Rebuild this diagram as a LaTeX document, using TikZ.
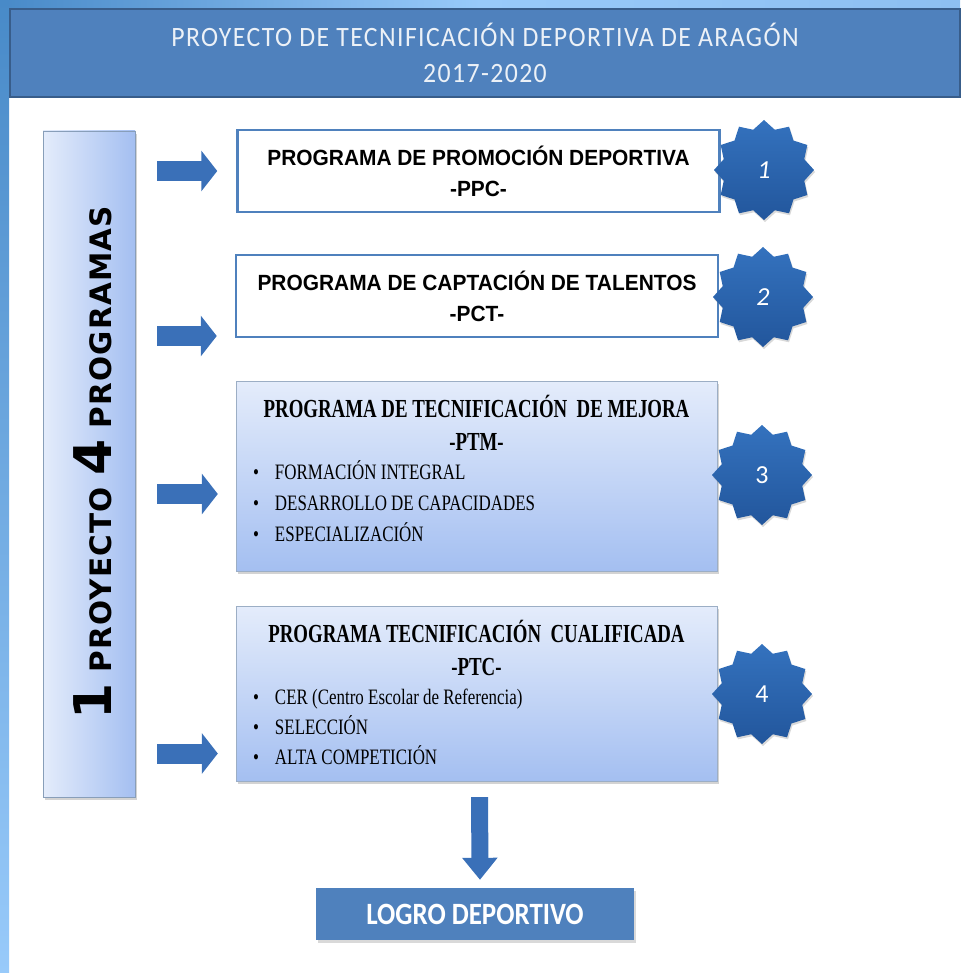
\documentclass[tikz,border=0pt]{standalone}
\usepackage{fontspec}
\setmainfont{Liberation Serif}
\newfontfamily\titfont[LetterSpace=5,FakeStretch=0.92]{Carlito}
\newfontfamily\numfont{Carlito}
\newfontfamily\logrofont[FakeStretch=0.87]{Carlito}
\newfontfamily\negfont[FakeStretch=0.95]{Liberation Sans}
\newfontfamily\serfont[FakeStretch=0.77]{Liberation Serif}
\newfontfamily\sertitfont[FakeStretch=0.725]{Liberation Serif}
\newfontfamily\verfont[LetterSpace=4]{DejaVu Sans}
\usetikzlibrary{positioning}
\usetikzlibrary{shapes,shapes.geometric}
\usetikzlibrary{arrows.meta}
\usetikzlibrary{shadows}

\definecolor{azul}{RGB}{79,129,189}
\definecolor{azulOsc}{RGB}{56,93,138}
\definecolor{flecha}{RGB}{58,112,184}
\definecolor{claro}{RGB}{228,236,251}
\definecolor{medio}{RGB}{164,191,241}
\definecolor{estrellaA}{RGB}{52,114,190}
\definecolor{estrellaB}{RGB}{34,86,156}
\definecolor{textoTit}{RGB}{236,241,247}
\definecolor{fondoA}{RGB}{72,138,200}
\definecolor{fondoB}{RGB}{152,202,250}

\begin{document}
\begin{tikzpicture}[x=1pt,y=-1pt,
banda/.style={fill=azul,draw=azulOsc,line width=2pt,minimum width=950,minimum height=88,inner sep=0pt},
titulo/.style={text=textoTit,align=center,font=\titfont\fontsize{28}{36}\selectfont},
cajaV/.style={draw=azulOsc!60,left color=claro,right color=medio,minimum width=92,minimum height=666,
  drop shadow={shadow xshift=2pt,shadow yshift=-3pt,opacity=0.35}},
cajaB/.style={draw=azul,line width=2.5pt,fill=white,minimum width=482,minimum height=82},
cajaG/.style={draw=azulOsc!50,top color=claro,bottom color=medio,minimum width=481,
  drop shadow={shadow xshift=2pt,shadow yshift=-3pt,opacity=0.35}},
textoB/.style={align=center,font=\negfont\bfseries\fontsize{22}{31}\selectfont},
textoS/.style={align=center,font=\sertitfont\bfseries\fontsize{26}{33}\selectfont},
lista/.style={align=left,anchor=west,inner sep=0pt,font=\serfont\fontsize{22}{31}\selectfont},
estrella/.style={star,star points=12,star point ratio=1.2,minimum size=100,inner sep=0pt,
  top color=estrellaA,bottom color=estrellaB,text=white,font=\numfont\fontsize{26}{26}\selectfont,
  drop shadow={shadow xshift=1pt,shadow yshift=-2pt,opacity=0.3}},
flechaH/.style={draw=flecha,line width=20pt,-{Triangle[length=16pt,width=40pt]}},
flechaV/.style={draw=flecha,line width=17pt,-{Triangle[length=22pt,width=34pt]}},
logro/.style={fill=azul,text=white,minimum width=318,minimum height=52,font=\logrofont\bfseries\fontsize{31}{31}\selectfont,
  drop shadow={shadow xshift=2pt,shadow yshift=-3pt,opacity=0.3}}
]
\useasboundingbox (0,0) rectangle (960,973);
%-- fondo
\shade[left color=fondoA,right color=fondoB!85!azul,middle color=fondoB] (0,0) rectangle (960,10);
\shade[top color=fondoA,bottom color=fondoB] (0,0) rectangle (9,973);
%-- cabecera
\node[banda](cab) at (485,53){};
\node[titulo] at (cab.center){PROYECTO DE TECNIFICACIÓN DEPORTIVA DE ARAGÓN\\2017-2020};
%-- proyecto
\node[cajaV](proy) at (89,464){};
\node[rotate=90,anchor=base,font=\verfont\bfseries\fontsize{29.5}{30}\selectfont] (proyT) at (111,463)
  {{\fontsize{52}{52}\selectfont 1} PROYECTO {\fontsize{52}{52}\selectfont 4} PROGRAMAS};
%-- programas
\node[cajaB](ppc) at (478.5,171){}; \node[textoB] at (ppc.center){PROGRAMA DE PROMOCIÓN DEPORTIVA\\-PPC-};
\node[cajaB](pct) at (477,296){}; \node[textoB] at (pct.center){PROGRAMA DE CAPTACIÓN DE TALENTOS\\-PCT-};
%--
\node[cajaG,minimum height=190](ptm) at (476.5,476){};
\node[textoS] at ([yshift=-42.5pt]ptm.north){PROGRAMA DE TECNIFICACIÓN\ \ DE MEJORA\\-PTM-};
\node[lista] at ([xshift=17pt,yshift=-25.5pt]ptm.center -| ptm.west){%
  \makebox[22pt][l]{\textbullet}FORMACIÓN INTEGRAL\\
  \makebox[22pt][l]{\textbullet}DESARROLLO DE CAPACIDADES\\
  \makebox[22pt][l]{\textbullet}ESPECIALIZACIÓN};
%--
\node[cajaG,minimum height=175](ptc) at (476.5,693.5){};
\node[textoS] at ([yshift=-42.5pt]ptc.north){PROGRAMA TECNIFICACIÓN\ \ CUALIFICADA\\-PTC-};
\node[lista,font=\serfont\fontsize{22}{30}\selectfont] at ([xshift=17pt,yshift=-33.5pt]ptc.center -| ptc.west){%
  \makebox[22pt][l]{\textbullet}CER (Centro Escolar de Referencia)\\
  \makebox[22pt][l]{\textbullet}SELECCIÓN\\
  \makebox[22pt][l]{\textbullet}ALTA COMPETICIÓN};
%-- estrellas
\node[estrella](e1) at (764,170){\itshape 1};
\node[estrella](e2) at (763,297){\itshape 2};
\node[estrella](e3) at (762,475){3};
\node[estrella](e4) at (762,694){4};
%-- flechas
\coordinate (f1) at (ppc.west);
\coordinate (f2) at ([yshift=-40pt]pct.west);
\coordinate (f3) at ([yshift=-18pt]ptm.west);
\coordinate (f4) at ([yshift=-60pt]ptc.west);
\draw[flechaH,shorten <=22pt,shorten >=19pt] (proy.east |- f1) -- (f1);
\draw[flechaH,shorten <=22pt,shorten >=18pt] (proy.east |- f2) -- (f2);
\draw[flechaH,shorten <=22pt,shorten >=18pt] (proy.east |- f3) -- (f3);
\draw[flechaH,shorten <=22pt,shorten >=18pt] (proy.east |- f4) -- (f4);
%-- logro
\node[logro](log) at (475,914){LOGRO DEPORTIVO};
\draw[flechaV,shorten <=16pt,shorten >=8pt] ([xshift=3pt]ptc.south) -- ([xshift=5pt]log.north);
\end{tikzpicture}
\end{document}
